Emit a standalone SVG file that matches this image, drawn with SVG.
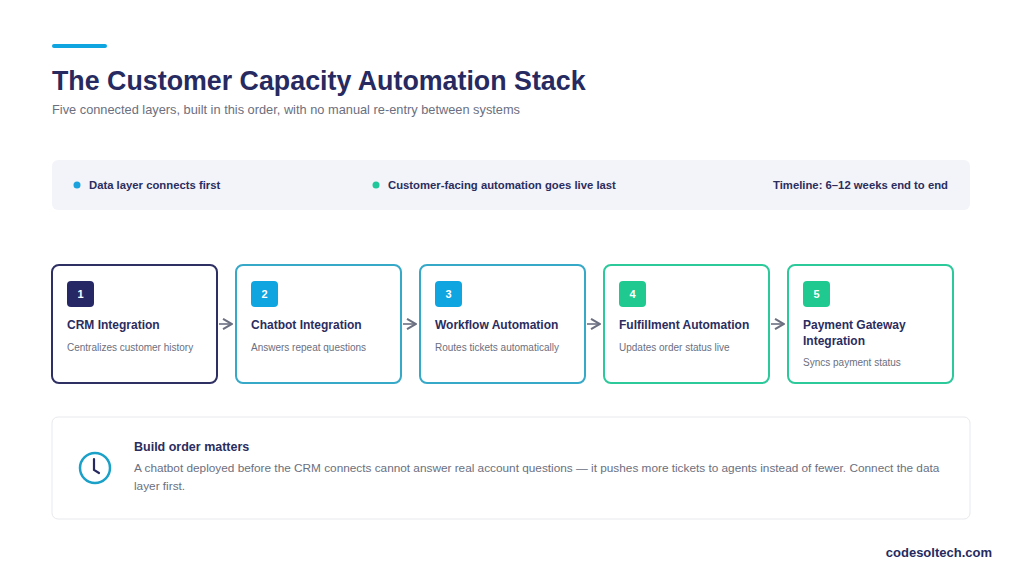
<svg xmlns="http://www.w3.org/2000/svg" width="1024" height="584" viewBox="0 0 1024 584">
<style>
text{font-family:"Liberation Sans",Arial,sans-serif}
.t{font-size:12px;font-weight:bold;fill:#2b2d5e}
.d{font-size:10px;fill:#6b6f80}
.n{font-size:11px;font-weight:bold;fill:#fff}
.box{fill:#fff;stroke-width:2}
.c{stroke:#6b6f80;stroke-width:1.6;fill:none}
</style>
<defs><marker id="ah" viewBox="0 0 10 10" refX="9" refY="5" markerWidth="8" markerHeight="8" orient="auto"><path d="M2 1L9 5L2 9" fill="none" stroke="#6b6f80" stroke-width="1.6"/></marker></defs>
<rect width="1024" height="584" fill="#fff"/>
<rect x="52" y="44" width="55" height="4" rx="2" fill="#0ea5e0"/>
<text x="52" y="90" style="font-size:26.8px;font-weight:bold;fill:#262a60">The Customer Capacity Automation Stack</text>
<text x="52" y="114" style="font-size:12.8px;fill:#6b6f80">Five connected layers, built in this order, with no manual re-entry between systems</text>
<rect x="52" y="160" width="918" height="50" rx="6" fill="#f3f4f9"/>
<circle cx="77" cy="185" r="3.5" fill="#1ba1dc"/>
<text x="89" y="189" style="font-size:11.3px;font-weight:bold;fill:#2b2d5e">Data layer connects first</text>
<circle cx="376" cy="185" r="3.5" fill="#1fc79a"/>
<text x="388" y="189" style="font-size:11.3px;font-weight:bold;fill:#2b2d5e">Customer-facing automation goes live last</text>
<text x="948" y="189" text-anchor="end" style="font-size:11.3px;font-weight:bold;fill:#2b2d5e">Timeline: 6–12 weeks end to end</text>
<g id="connectors">
<path class="c" d="M219 324H232" marker-end="url(#ah)"/>
<path class="c" d="M403 324H416" marker-end="url(#ah)"/>
<path class="c" d="M587 324H600" marker-end="url(#ah)"/>
<path class="c" d="M771 324H784" marker-end="url(#ah)"/>
</g>
<g id="n1"><rect class="box" x="52" y="265" width="165" height="118" rx="7" stroke="#2e2f63"/><rect x="67" y="281" width="27" height="26" rx="4" fill="#252865"/><text class="n" x="80.5" y="298" text-anchor="middle">1</text><text class="t" x="67" y="329">CRM Integration</text><text class="d" x="67" y="351">Centralizes customer history</text></g>
<g id="n2"><rect class="box" x="236" y="265" width="165" height="118" rx="7" stroke="#36a8c8"/><rect x="251" y="281" width="27" height="26" rx="4" fill="#0ea5e0"/><text class="n" x="264.5" y="298" text-anchor="middle">2</text><text class="t" x="251" y="329">Chatbot Integration</text><text class="d" x="251" y="351">Answers repeat questions</text></g>
<g id="n3"><rect class="box" x="420" y="265" width="165" height="118" rx="7" stroke="#36a8c8"/><rect x="435" y="281" width="27" height="26" rx="4" fill="#0ea5e0"/><text class="n" x="448.5" y="298" text-anchor="middle">3</text><text class="t" x="435" y="329">Workflow Automation</text><text class="d" x="435" y="351">Routes tickets automatically</text></g>
<g id="n4"><rect class="box" x="604" y="265" width="165" height="118" rx="7" stroke="#2cc99a"/><rect x="619" y="281" width="27" height="26" rx="4" fill="#1fc98f"/><text class="n" x="632.5" y="298" text-anchor="middle">4</text><text class="t" x="619" y="329">Fulfillment Automation</text><text class="d" x="619" y="351">Updates order status live</text></g>
<g id="n5"><rect class="box" x="788" y="265" width="165" height="118" rx="7" stroke="#2cc99a"/><rect x="803" y="281" width="27" height="26" rx="4" fill="#1fc98f"/><text class="n" x="816.5" y="298" text-anchor="middle">5</text><text class="t" x="803" y="329">Payment Gateway</text><text class="t" x="803" y="345">Integration</text><text class="d" x="803" y="366">Syncs payment status</text></g>
<g id="note"><rect x="52" y="417" width="918" height="102" rx="6" fill="#fff" stroke="#e8e9ee"/>
<circle cx="95" cy="468" r="15" fill="none" stroke="#1ba1c8" stroke-width="2.5"/><path d="M94 459V470L99 473" fill="none" stroke="#262a60" stroke-width="2.2" stroke-linecap="round"/>
<text x="134" y="451" style="font-size:12.5px;font-weight:bold;fill:#2b2d5e">Build order matters</text>
<text x="134" y="472" style="font-size:11.8px;fill:#6b6f80">A chatbot deployed before the CRM connects cannot answer real account questions — it pushes more tickets to agents instead of fewer. Connect the data</text>
<text x="134" y="490" style="font-size:11.8px;fill:#6b6f80">layer first.</text></g>
<text x="992" y="557" text-anchor="end" style="font-size:13px;font-weight:bold;fill:#262a60">codesoltech.com</text>
</svg>
